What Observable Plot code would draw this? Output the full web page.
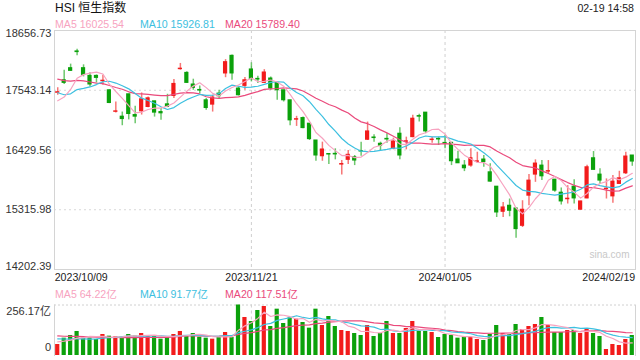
<!DOCTYPE html>
<html><head><meta charset="utf-8">
<script src="https://cdn.jsdelivr.net/npm/d3@7"></script>
<script src="https://cdn.jsdelivr.net/npm/@observablehq/plot@0.6"></script>
<style>
body{margin:0;background:#fff;}
#wrap{position:relative;width:640px;height:360px;overflow:hidden;font-family:"Liberation Sans",Arial,"Noto Sans CJK SC",sans-serif;}
.t{position:absolute;white-space:nowrap;line-height:1;}
#price,#vol{position:absolute;left:0;max-width:none !important;}
#price{top:19px;width:640px;height:266px !important;} #vol{top:300px;width:640px;height:60px !important;}
svg{display:block;}
</style></head><body><div id="wrap"></div>
<script>
const dates = ["2023/10/09","2023/10/10","2023/10/11","2023/10/12","2023/10/13","2023/10/16","2023/10/17","2023/10/18","2023/10/19","2023/10/20","2023/10/24","2023/10/25","2023/10/26","2023/10/27","2023/10/30","2023/10/31",
"2023/11/01","2023/11/02","2023/11/03","2023/11/06","2023/11/07","2023/11/08","2023/11/09","2023/11/10","2023/11/13","2023/11/14","2023/11/15","2023/11/16","2023/11/17","2023/11/20","2023/11/21","2023/11/22","2023/11/23","2023/11/24","2023/11/27","2023/11/28","2023/11/29","2023/11/30",
"2023/12/01","2023/12/04","2023/12/05","2023/12/06","2023/12/07","2023/12/08","2023/12/11","2023/12/12","2023/12/13","2023/12/14","2023/12/15","2023/12/18","2023/12/19","2023/12/20","2023/12/21","2023/12/22","2023/12/27","2023/12/28","2023/12/29",
"2024/01/02","2024/01/03","2024/01/04","2024/01/05","2024/01/08","2024/01/09","2024/01/10","2024/01/11","2024/01/12","2024/01/15","2024/01/16","2024/01/17","2024/01/18","2024/01/19","2024/01/22","2024/01/23","2024/01/24","2024/01/25","2024/01/26","2024/01/29","2024/01/30","2024/01/31",
"2024/02/01","2024/02/02","2024/02/05","2024/02/06","2024/02/07","2024/02/08","2024/02/09","2024/02/14","2024/02/15","2024/02/16","2024/02/19"];

const open = [17496,17730,17955,18267,17955,17811,17811,17712,17543,17141,
17051,17468,17081,17150,17231,17337,17137,17281,17436,17936,
17867,17650,17549,17356,17275,17481,17856,18185,17575,17624,
17931,17755,17680,17762,17680,17543,17356,16995,17025,16920,
16607,16313,16355,16358,16158,16246,16295,16411,16620,16663,
16546,16637,16452,16733,16583,16669,17062,17126,16615,16637,
16562,16564,16252,16139,16139,16209,16252,16014,15746,15278,
15391,15340,15016,15578,15971,16139,16027,15877,15634,15512,
15746,15316,15527,16276,15971,15700,15565,15797,15995,16327];

const high = [17590,17917,18030,18305,18017,17867,17829,17824,17552,17324,
17137,17468,17244,17493,17418,17337,17201,17468,17743,18043,
17886,17749,17624,17388,17450,17543,18114,18198,17605,17781,
18054,17805,17927,17792,17680,17543,17356,17057,17043,16920,
16607,16576,16355,16452,16233,16420,16327,16576,16950,16714,
16576,16733,16650,16845,16669,17075,17094,17126,16669,16669,
16701,16564,16407,16233,16452,16388,16327,16171,15746,15453,
15516,15340,15484,15971,16246,16233,16233,15877,15722,15765,
15877,15475,16145,16401,16078,15891,15952,16033,16388,16327];

const low = [17450,17650,17899,18185,17792,17605,17680,17637,17294,17118,
16882,16991,16920,17081,17219,17043,16982,17219,17388,17917,
17669,17543,17481,17169,17137,17369,17777,17730,17436,17543,
17698,17669,17669,17543,17356,17324,16882,16869,16826,16607,
16220,16220,16158,16246,15965,16158,16139,16313,16607,16576,
16420,16557,16433,16246,16433,16658,16950,16733,16557,16514,
16452,16139,16182,16027,16108,16182,16108,15830,15172,15172,
15185,14783,14985,15391,15827,15859,15984,15640,15404,15423,
15423,15310,15522,16059,15797,15516,15438,15797,15971,16126];

const close = [17506,17680,17904,18254,17829,17650,17773,17721,17305,17150,
17006,17100,17051,17375,17393,17126,17113,17231,17661,17945,
17680,17586,17537,17212,17407,17431,18067,17856,17450,17730,
17749,17743,17874,17575,17543,17356,16982,17004,16838,16632,
16327,16439,16345,16347,16168,16340,16233,16401,16776,16652,
16508,16626,16589,16327,16592,17013,17051,16776,16624,16626,
16551,16220,16182,16089,16276,16218,16205,15840,15265,15359,
15297,14955,15316,15859,16177,15939,16036,15672,15471,15522,
15527,15471,16108,16059,15859,15709,15840,15902,16308,16214];

// turnover, 亿
const volume = [55.8,87.9,101.5,121.8,87.9,87.9,81.2,106.5,98.1,94.7,
93.0,106.5,98.1,111.6,101.5,98.1,82.9,89.6,106.5,121.8,
101.5,111.6,93.0,87.9,82.9,94.7,116.7,91.3,256.17,192.8,
172.5,228.3,248.6,147.1,235.0,162.3,191.1,184.3,167.4,138.7,
235.0,152.2,197.8,147.1,126.8,121.8,111.6,101.5,152.2,96.4,
111.6,172.5,111.6,111.6,137.0,172.5,121.8,121.8,116.7,91.3,
106.5,101.5,87.9,91.3,91.3,81.2,76.1,106.5,152.2,111.6,
106.5,157.3,131.9,147.1,157.3,192.8,152.2,116.7,116.7,126.8,
126.8,111.6,137.0,111.6,96.4,30.4,55.8,50.7,81.2,101.5];

// sessions before the first shown day, only used to warm up the moving averages
const priorClose = [18202,18096,18026,18009,18048,18182,17931,17998,17885,17655,18057,17729,17467,17611,17373,17331,17196,17213,17485];
const priorVolume = [120,115,112,118,110,116,108,112,114,110,100,104,96,102,98,72,76,70,74];

const priceTicks = [14202.39, 15315.98, 16429.56, 17543.14, 18656.73];
const volTicks = [0, 256.17];
const xLabels = ["2023/10/09","2023/11/21","2024/01/05","2024/02/19"];
const gridDates = ["2023/11/21","2024/01/05"];
const maNames = ["MA5","MA10","MA20"];
const priceMA = ["16025.54","15926.81","15789.40"];
const volMA = ["64.22亿","91.77亿","117.51亿"];
const title = "HSI 恒生指数";
const stamp = "02-19 14:58";

const RED = "#f21b1b", GREEN = "#0ba10b";
const MA_COLORS = ["#f7a3c0", "#3dc0e0", "#ea4a7c"];
const FONT = '"Liberation Sans",Arial,sans-serif';

function movingAvg(series, prior, n) {
  const all = prior.concat(series);
  return series.map((_, i) => {
    const end = prior.length + i + 1;
    return d3.mean(all.slice(Math.max(0, end - n), end));
  });
}
const ma5 = movingAvg(close, priorClose, 5), ma10 = movingAvg(close, priorClose, 10), ma20 = movingAvg(close, priorClose, 20);
const vma5 = movingAvg(volume, priorVolume, 5), vma10 = movingAvg(volume, priorVolume, 10), vma20 = movingAvg(volume, priorVolume, 20);

const rows = dates.map((d, i) => ({date: d, open: open[i], high: high[i], low: low[i], close: close[i], volume: volume[i],
  up: close[i] >= open[i], ma5: ma5[i], ma10: ma10[i], ma20: ma20[i], vma5: vma5[i], vma10: vma10[i], vma20: vma20[i]}));
const upRows = rows.filter(d => d.up), downRows = rows.filter(d => !d.up);
const priceTickRows = priceTicks.map(v => ({v, label: v.toFixed(2)}));
const volTickRows = volTicks.map(v => ({v, label: v === 0 ? "0" : v.toFixed(2) + "亿"}));

const wrap = document.getElementById("wrap");
function addText(txt, css) {
  const el = document.createElement("div");
  el.className = "t"; el.textContent = txt; Object.assign(el.style, css); wrap.appendChild(el); return el;
}
addText(title, {left: "55px", top: "2px", fontSize: "12px", color: "#111"});
addText(stamp, {right: "6px", top: "3px", fontSize: "10.6px", color: "#222"});
const legX = [55, 140, 225];
maNames.forEach((n, k) => {
  addText(n + " " + priceMA[k], {left: legX[k] + "px", top: "18.5px", fontSize: "10.6px", color: MA_COLORS[k]});
  addText(n + " " + volMA[k], {left: legX[k] + "px", top: "288.5px", fontSize: "10.6px", color: MA_COLORS[k]});
});
// volume axis labels (left of the volume panel)
addText(volTickRows[1].label, {right: "589px", top: "305.5px", fontSize: "11px", color: "#333"});
addText(volTickRows[0].label, {right: "589px", top: "342px", fontSize: "11px", color: "#333"});

const xScale = {type: "band", domain: dates, paddingInner: 0.35, paddingOuter: 0.175, axis: null};

const price = Plot.plot({
  width: 640, height: 266, marginTop: 11, marginBottom: 16, marginLeft: 54, marginRight: 5,
  style: {fontFamily: FONT, background: "transparent"},
  x: xScale,
  y: {domain: [priceTicks[0], priceTicks[4]], axis: null},
  marks: [
    Plot.ruleY(priceTicks.slice(1, 4), {stroke: "#d8d8d8", strokeDasharray: "2,3"}),
    Plot.ruleX(gridDates, {x: d => d, stroke: "#cfcfcf", strokeDasharray: "3,3"}),
    Plot.frame({stroke: "#d4d4d4"}),
    Plot.text(priceTickRows.slice(1, 4), {y: "v", text: "label", frameAnchor: "left", textAnchor: "end", dx: -3, fontSize: 11, fill: "#333"}),
    Plot.text(priceTickRows.slice(4), {y: "v", text: "label", frameAnchor: "left", textAnchor: "end", dx: -3, lineAnchor: "top", dy: -1, fontSize: 11, fill: "#333"}),
    Plot.text(priceTickRows.slice(0, 1), {y: "v", text: "label", frameAnchor: "left", textAnchor: "end", dx: -3, lineAnchor: "bottom", dy: 0, fontSize: 11, fill: "#333"}),
    Plot.text(["sina.com"], {frameAnchor: "bottom-right", dx: -6, dy: -12, fill: "#c8c8c8", fontSize: 10}),
    Plot.ruleX(upRows, {x: "date", y1: "low", y2: "high", stroke: RED, strokeWidth: 1.5, strokeOpacity: 0.6}),
    Plot.ruleX(downRows, {x: "date", y1: "low", y2: "high", stroke: GREEN, strokeWidth: 1.5, strokeOpacity: 0.6}),
    Plot.barY(upRows, {x: "date", y1: "open", y2: "close", fill: RED, insetTop: -0.5, insetBottom: -0.5}),
    Plot.barY(downRows, {x: "date", y1: "open", y2: "close", fill: GREEN, insetTop: -0.5, insetBottom: -0.5}),
    Plot.line(rows, {x: "date", y: "ma20", stroke: MA_COLORS[2], strokeWidth: 1.2}),
    Plot.line(rows, {x: "date", y: "ma10", stroke: MA_COLORS[1], strokeWidth: 1.2}),
    Plot.line(rows, {x: "date", y: "ma5", stroke: MA_COLORS[0], strokeWidth: 1.2}),
    Plot.text([xLabels[0]], {x: d => d, frameAnchor: "bottom", textAnchor: "start", lineAnchor: "top", dx: -3, dy: 4, fontSize: 10.6, fill: "#222"}),
    Plot.text(xLabels.slice(1, 3), {x: d => d, frameAnchor: "bottom", textAnchor: "middle", lineAnchor: "top", dy: 4, fontSize: 10.6, fill: "#222"}),
    Plot.text([xLabels[3]], {x: d => d, frameAnchor: "bottom", textAnchor: "end", lineAnchor: "top", dx: 3, dy: 4, fontSize: 10.6, fill: "#222"})
  ]
});
price.id = "price";
wrap.appendChild(price);

const vol = Plot.plot({
  width: 640, height: 60, marginTop: 4.5, marginBottom: 5, marginLeft: 54, marginRight: 5,
  style: {fontFamily: FONT, background: "transparent"},
  x: xScale,
  y: {domain: volTicks, axis: null},
  marks: [
    Plot.ruleY([volTicks[1]], {stroke: "#d0d0d0", strokeDasharray: "2,2"}),
    Plot.ruleX(gridDates, {x: d => d, stroke: "#cfcfcf", strokeDasharray: "3,3"}),
    Plot.frame({stroke: "#d4d4d4", anchor: "left"}),
    Plot.frame({stroke: "#d4d4d4", anchor: "right"}),
    Plot.barY(upRows, {x: "date", y: "volume", fill: RED}),
    Plot.barY(downRows, {x: "date", y: "volume", fill: GREEN}),
    Plot.line(rows, {x: "date", y: "vma20", stroke: MA_COLORS[2], strokeWidth: 1.2}),
    Plot.line(rows, {x: "date", y: "vma10", stroke: MA_COLORS[1], strokeWidth: 1.2}),
    Plot.line(rows, {x: "date", y: "vma5", stroke: MA_COLORS[0], strokeWidth: 1.2})
  ]
});
vol.id = "vol";
wrap.appendChild(vol);
</script></body></html>
